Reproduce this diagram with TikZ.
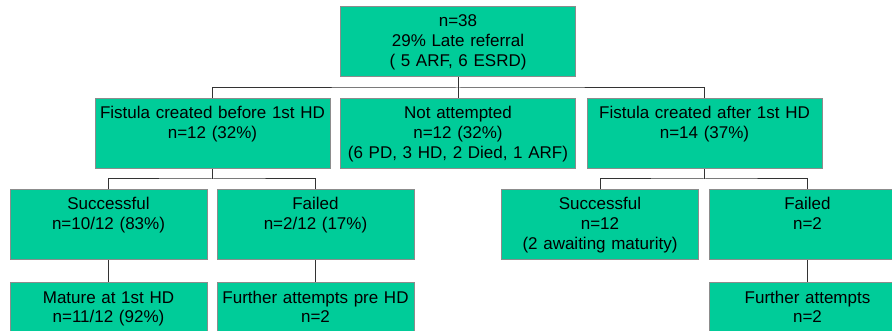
\documentclass[tikz,border=0pt]{standalone}
\usepackage{fontspec}
\setmainfont{Liberation Sans}
\usepackage{tikz}
\definecolor{boxgreen}{HTML}{00CC99}
\definecolor{boxedge}{HTML}{8C8C8C}
\definecolor{linkgray}{HTML}{333333}

\begin{document}
\begin{tikzpicture}[x=1pt, y=-1pt]
	\tikzstyle{wide} = [draw=boxedge, fill=boxgreen, line width=1pt, inner sep=0pt, text width=235pt, minimum height=70pt, text height=20pt, text depth=50pt, align=center, font=\fontsize{17}{20}\selectfont]
	\tikzstyle{narrow} = [wide, text width=197pt]
	\tikzstyle{link} = [draw=linkgray, line width=1pt]
	\useasboundingbox (0,0) rectangle (892,331);
	% Top box
	\node[wide] (root) at (458,42) {n=38\\29\% Late referral\\( 5 ARF, 6 ESRD)};
	% Second row
	\node[wide] (before) at (212.5,134) {Fistula created before 1st HD\\n=12 (32\%)};
	\node[wide] (notatt) at (458,134) {Not attempted\\n=12 (32\%)\\(6 PD, 3 HD, 2 Died, 1 ARF)};
	\node[wide] (after) at (704.5,134) {Fistula created after 1st HD\\n=14 (37\%)};
	% Third row
	\node[narrow] (succA) at (108.5,225) {Successful\\n=10/12 (83\%)};
	\node[narrow] (failA) at (315.5,225) {Failed\\n=2/12 (17\%)};
	\node[narrow] (succB) at (600,225) {Successful\\n=12\\(2 awaiting maturity)};
	\node[narrow] (failB) at (807.5,225) {Failed\\n=2};
	% Bottom row
	\node[narrow] (matA) at (108.5,318) {Mature at 1st HD\\n=11/12 (92\%)};
	\node[narrow] (furA) at (315.5,318) {Further attempts pre HD\\n=2};
	\node[narrow] (furB) at (807.5,318) {Further attempts\\n=2};

	% Split points
	\coordinate (top split) at (458,88);
	\coordinate (left split) at (212.5,179);
	\coordinate (right split) at (704.5,179);

	% Connect boxes
	\draw[link] (root.south) -- (top split);
	\draw[link] (before.north) |- (top split) -| (after.north);
	\draw[link] (top split) -- (notatt.north);
	\draw[link] (before.south) -- (left split);
	\draw[link] (succA.north) |- (left split) -| (failA.north);
	\draw[link] (after.south) -- (right split);
	\draw[link] (succB.north) |- (right split) -| (failB.north);
	\draw[link] (succA.south) -- (matA.north);
	\draw[link] (failA.south) -- (furA.north);
	\draw[link] (failB.south) -- (furB.north);
\end{tikzpicture}
\end{document}
